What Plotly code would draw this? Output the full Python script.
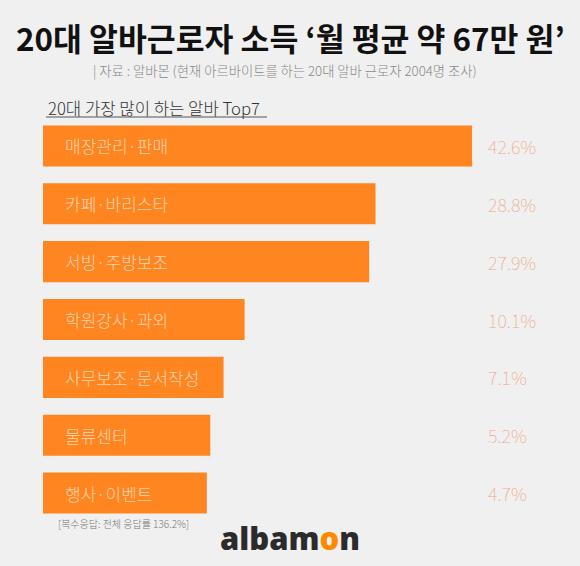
import plotly.graph_objects as go

# ---- data ----
categories = ["매장관리·판매", "카페·바리스타", "서빙·주방보조", "학원강사·과외",
              "사무보조·문서작성", "물류센터", "행사·이벤트"]
values = [42.6, 28.8, 27.9, 10.1, 7.1, 5.2, 4.7]
title_text = "20대 알바근로자 소득 ‘월 평균 약 67만 원’"
source_text = "| 자료 : 알바몬 (현재 아르바이트를 하는 20대 알바 근로자 2004명 조사)"
heading_text = "20대 가장 많이 하는 알바 Top7"
footnote_text = "[복수응답: 전체 응답률 136.2%]"

# ---- layout constants ----
W, H = 580, 566
ML, MR, MT, MB = 43, 0, 117, 44
BAR_BASE = -18.7          # bars start left of zero, as in the infographic
PX_PER_UNIT = 7.0
plot_w = W - ML - MR
plot_h = H - MT - MB

BG = "#f0f0f0"
ORANGE = "#ff8521"
KR = "Noto Sans CJK KR"


def px_x(px):
    return (px - ML) / plot_w


def px_y(py):
    return (H - MB - py) / plot_h


fig = go.Figure()
fig.add_trace(go.Bar(
    y=categories, x=[v - BAR_BASE for v in values], base=BAR_BASE,
    orientation="h", marker=dict(color=ORANGE, line=dict(width=0)),
    hoverinfo="skip",
))

annotations = []
for c, v in zip(categories, values):
    annotations.append(dict(
        x=px_x(63), xref="paper", y=c, yref="y", text=c, showarrow=False,
        xanchor="left", yanchor="middle",
        font=dict(family=KR, size=17, color="#ffd6b0", weight=300)))
    annotations.append(dict(
        x=px_x(486), xref="paper", y=c, yref="y", text=f"{v}%", showarrow=False,
        xanchor="left", yanchor="middle",
        font=dict(family="Noto Sans CJK KR Thin, Noto Sans CJK KR", size=18,
                  color="#eea98a", weight=100)))

annotations += [
    dict(x=px_x(290), y=px_y(37), xref="paper", yref="paper", text=f"<b>{title_text}</b>",
         showarrow=False, xanchor="center", yanchor="middle",
         font=dict(family=KR, size=31.4, color="#111111")),
    dict(x=px_x(285), y=px_y(70), xref="paper", yref="paper", text=source_text,
         showarrow=False, xanchor="center", yanchor="middle",
         font=dict(family=KR, size=13.3, color="#888888", weight=300)),
    dict(x=px_x(46), y=px_y(108), xref="paper", yref="paper", text=heading_text,
         showarrow=False, xanchor="left", yanchor="middle",
         font=dict(family=KR, size=16.7, color="#333333", weight=300)),
    dict(x=px_x(123), y=px_y(523), xref="paper", yref="paper", text=footnote_text,
         showarrow=False, xanchor="center", yanchor="middle",
         font=dict(family=KR, size=10, color="#777777", weight=300)),
    dict(x=px_x(290), y=px_y(538), xref="paper", yref="paper",
         text="albam<span style='color:#ff8a00'>o</span>n",
         showarrow=False, xanchor="center", yanchor="middle",
         font=dict(family="Open Sans", size=31, color="#2b2b2b", weight=800)),
]

fig.update_layout(
    width=W, height=H,
    margin=dict(l=ML, r=MR, t=MT, b=MB),
    paper_bgcolor=BG, plot_bgcolor=BG,
    bargap=0.29, showlegend=False,
    xaxis=dict(range=[BAR_BASE, BAR_BASE + plot_w / PX_PER_UNIT], visible=False, fixedrange=True),
    yaxis=dict(type="category", autorange="reversed", visible=False, fixedrange=True),
    annotations=annotations,
    shapes=[dict(type="line", xref="paper", yref="paper",
                 x0=px_x(46), x1=px_x(267), y0=px_y(117), y1=px_y(117),
                 line=dict(color="#555555", width=1))],
)

fig.write_html(
    "out.html",
    config={"displayModeBar": False},
    post_script="document.body.style.margin='0';document.body.style.background='#f0f0f0';"
                "document.body.style.overflow='hidden';",
)
